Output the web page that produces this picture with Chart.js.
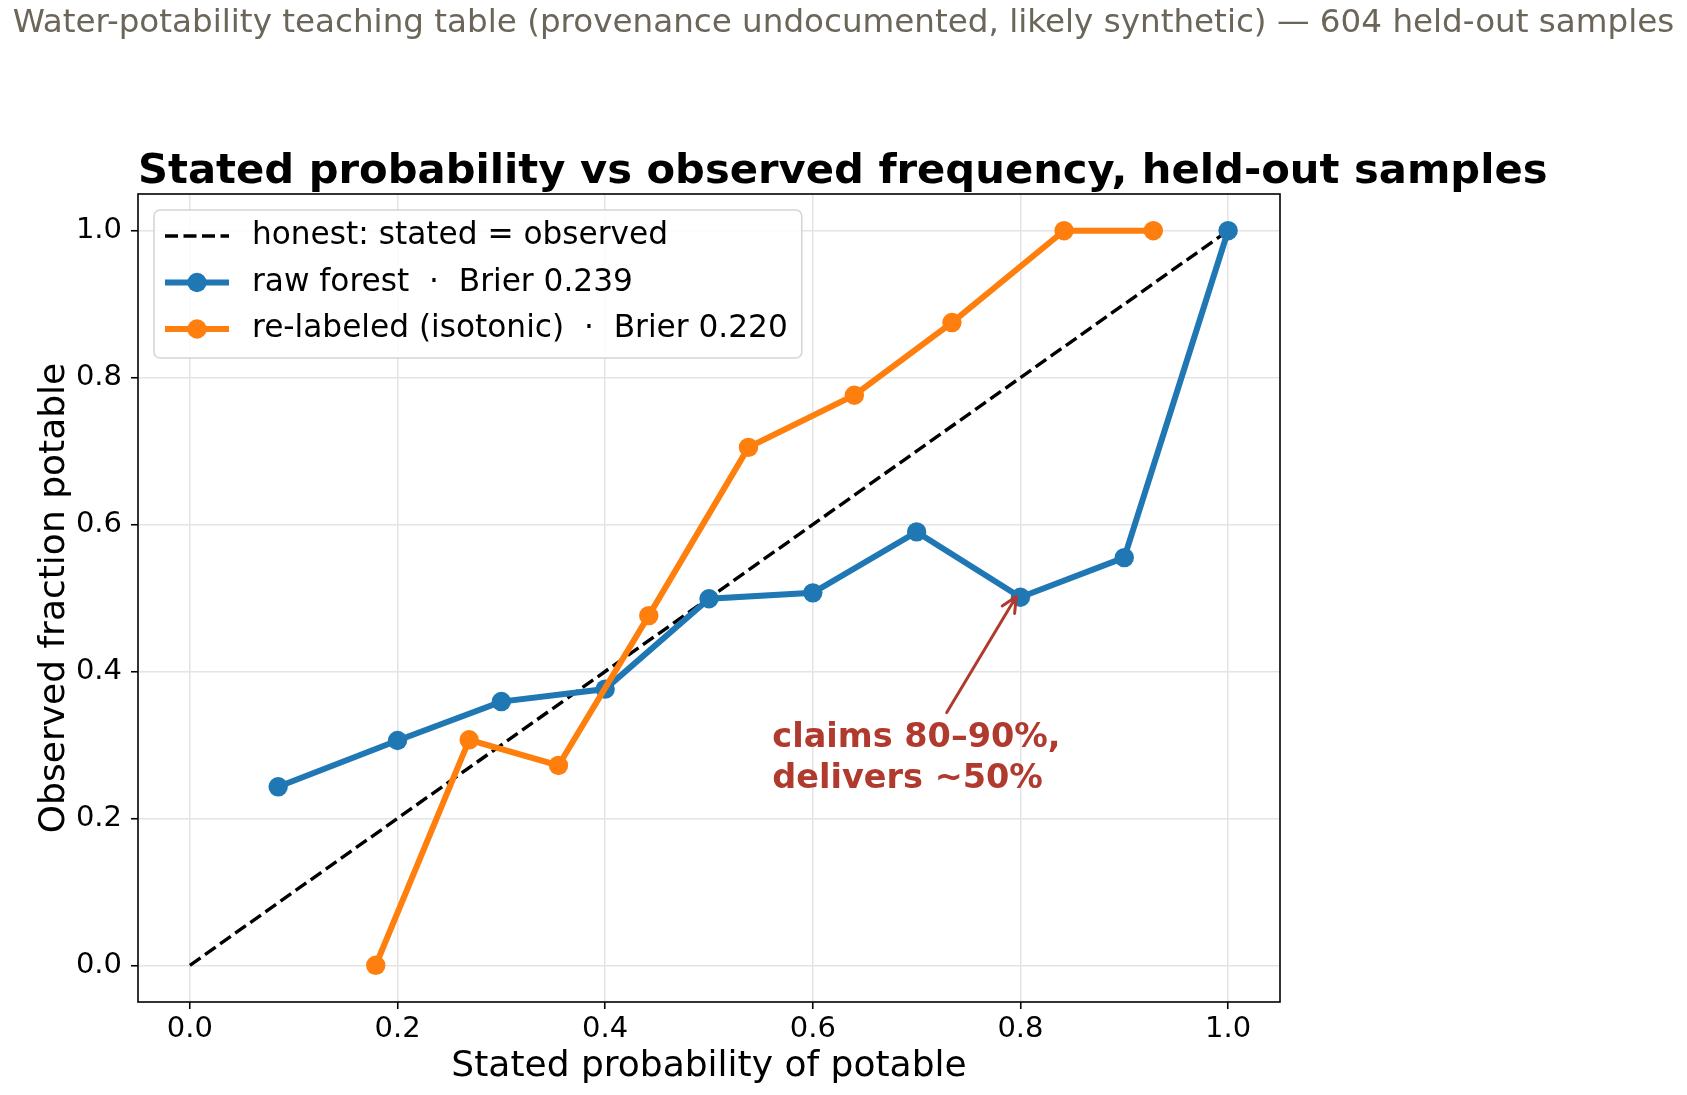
<!DOCTYPE html>
<html>
<head>
<meta charset="utf-8">
<script src="https://cdn.jsdelivr.net/npm/chart.js@4.4.1/dist/chart.umd.min.js"></script>
<style>
  html, body { margin: 0; padding: 0; background: #fff; }
  #wrap { width: 1687px; height: 1095px; }
</style>
</head>
<body>
<div id="wrap"><canvas id="chart" width="1687" height="1095"></canvas></div>
<script>
// stated probability (x) vs observed fraction potable (y), per bin
const rawProb = [0.085, 0.2, 0.3, 0.4, 0.5, 0.6, 0.7, 0.8, 0.9, 1.0];
const rawObserved = [0.243, 0.306, 0.359, 0.376, 0.499, 0.507, 0.590, 0.501, 0.555, 1.0];
const isoProb = [0.179, 0.269, 0.355, 0.442, 0.538, 0.640, 0.734, 0.842, 0.928];
const isoObserved = [0.0, 0.307, 0.272, 0.476, 0.705, 0.776, 0.875, 1.0, 1.0];
const honestLine = [0, 1];

const tickValues = [0.0, 0.2, 0.4, 0.6, 0.8, 1.0];
const axisRange = [-0.05, 1.05];

const seriesLabels = [
  'honest: stated = observed',
  'raw forest  \u00b7  Brier 0.239',
  're-labeled (isotonic)  \u00b7  Brier 0.220',
];

const figTitle = 'Water-potability teaching table (provenance undocumented, likely synthetic) \u2014 604 held-out samples';
const axTitle = 'Stated probability vs observed frequency, held-out samples';

const calloutLines = ['claims 80\u201390%,', 'delivers ~50%'];
const calloutAt = [0.561, 0.297];
const calloutFrom = [0.729, 0.344];
const calloutTo = [0.796, 0.502];

const BLUE = '#1f77b4';
const ORANGE = '#ff7f0e';
const RED = '#b03a2e';
const FONT = '"DejaVu Sans", sans-serif';

Chart.defaults.font.family = FONT;
Chart.defaults.color = '#000';

const toPoints = (xs, ys) => xs.map((v, i) => ({ x: v, y: ys[i] }));

// figure titles, frame, callout arrow + text, legend box in the upper left
const overlay = {
  id: 'overlay',
  afterDraw(chart) {
    const { ctx, chartArea: a, scales: { x, y } } = chart;
    ctx.save();

    ctx.textBaseline = 'alphabetic';
    ctx.textAlign = 'left';
    ctx.fillStyle = '#6b6659';
    ctx.font = '32.6px ' + FONT;
    const w = ctx.measureText(figTitle).width;
    ctx.fillText(figTitle, (chart.width - w) / 2, 32);
    ctx.fillStyle = '#000';
    ctx.font = 'bold 41.7px ' + FONT;
    ctx.fillText(axTitle, a.left, 183);

    ctx.strokeStyle = '#000';
    ctx.lineWidth = 1.6;
    ctx.strokeRect(a.left, a.top, a.right - a.left, a.bottom - a.top);

    // arrow
    const x0 = x.getPixelForValue(calloutFrom[0]), y0 = y.getPixelForValue(calloutFrom[1]);
    const x1 = x.getPixelForValue(calloutTo[0]), y1 = y.getPixelForValue(calloutTo[1]);
    const ang = Math.atan2(y1 - y0, x1 - x0);
    ctx.strokeStyle = RED;
    ctx.lineWidth = 3;
    ctx.lineCap = 'round';
    ctx.beginPath();
    ctx.moveTo(x0, y0);
    ctx.lineTo(x1, y1);
    for (const s of [-1, 1]) {
      ctx.moveTo(x1, y1);
      ctx.lineTo(x1 - 17 * Math.cos(ang + s * 0.44), y1 - 17 * Math.sin(ang + s * 0.44));
    }
    ctx.stroke();

    ctx.fillStyle = RED;
    ctx.font = 'bold 33.5px ' + FONT;
    const tx = x.getPixelForValue(calloutAt[0]), ty = y.getPixelForValue(calloutAt[1]);
    calloutLines.forEach((t, i) => ctx.fillText(t, tx, ty + i * 40.5));

    // legend
    const ds = chart.data.datasets;
    ctx.font = '31.2px ' + FONT;
    const textW = Math.max(...ds.map(d => ctx.measureText(d.label).width));
    const bx = a.left + 16, by = a.top + 16;
    const bw = 98 + textW + 14, bh = 148;
    ctx.beginPath();
    ctx.roundRect(bx, by, bw, bh, 6);
    ctx.fillStyle = 'rgba(255,255,255,0.85)';
    ctx.fill();
    ctx.strokeStyle = '#d5d5d5';
    ctx.lineWidth = 1.6;
    ctx.stroke();
    ds.forEach((d, i) => {
      const cy = by + 26 + i * 46.5;
      ctx.strokeStyle = d.borderColor;
      ctx.lineWidth = d.borderWidth;
      ctx.lineCap = 'butt';
      ctx.setLineDash(d.borderDash || []);
      ctx.beginPath();
      ctx.moveTo(bx + 11, cy);
      ctx.lineTo(bx + 75, cy);
      ctx.stroke();
      ctx.setLineDash([]);
      if (d.pointRadius) {
        ctx.fillStyle = d.borderColor;
        ctx.beginPath();
        ctx.arc(bx + 43, cy, d.pointRadius, 0, Math.PI * 2);
        ctx.fill();
      }
      ctx.fillStyle = '#000';
      ctx.textBaseline = 'middle';
      ctx.fillText(d.label, bx + 98, cy);
    });
    ctx.restore();
  }
};

const axisOpts = (title, isX) => ({
  type: 'linear',
  min: axisRange[0],
  max: axisRange[1],
  afterBuildTicks: (s) => { s.ticks = tickValues.map(v => ({ value: v })); },
  afterFit: (s) => { if (isX) s.height = 93; else s.width = 138; },
  ticks: {
    callback: (v) => Number(v).toFixed(1),
    font: { size: 29 },
    color: '#000',
    padding: isX ? 3 : 9,
    maxRotation: 0,
  },
  grid: {
    color: '#e4e4e4',
    lineWidth: 1.5,
    tickLength: 7,
    tickColor: '#000',
    tickWidth: 1.6,
  },
  border: { display: false },
  title: {
    display: true,
    text: title,
    font: { size: 36 },
    color: '#000',
    padding: isX ? { top: 0, bottom: 7 } : { top: 33, bottom: 0 },
  },
});

new Chart(document.getElementById('chart'), {
  type: 'line',
  data: {
    datasets: [
      {
        label: seriesLabels[0],
        data: toPoints(honestLine, honestLine),
        borderColor: '#000',
        borderWidth: 3.4,
        borderDash: [13, 5.5],
        pointRadius: 0,
        order: 3,
      },
      {
        label: seriesLabels[1],
        data: toPoints(rawProb, rawObserved),
        borderColor: BLUE,
        backgroundColor: BLUE,
        borderWidth: 6,
        pointRadius: 9.7,
        pointBorderWidth: 0,
        pointBackgroundColor: BLUE,
        order: 2,
      },
      {
        label: seriesLabels[2],
        data: toPoints(isoProb, isoObserved),
        borderColor: ORANGE,
        backgroundColor: ORANGE,
        borderWidth: 6,
        pointRadius: 9.7,
        pointBorderWidth: 0,
        pointBackgroundColor: ORANGE,
        order: 1,
      },
    ],
  },
  options: {
    responsive: false,
    animation: false,
    devicePixelRatio: 1,
    layout: { padding: { left: 0, right: 407, top: 194, bottom: 0 } },
    plugins: {
      legend: { display: false },
      tooltip: { enabled: false },
      title: { display: false },
    },
    scales: {
      x: axisOpts('Stated probability of potable', true),
      y: axisOpts('Observed fraction potable', false),
    },
  },
  plugins: [overlay],
});
</script>
</body>
</html>
